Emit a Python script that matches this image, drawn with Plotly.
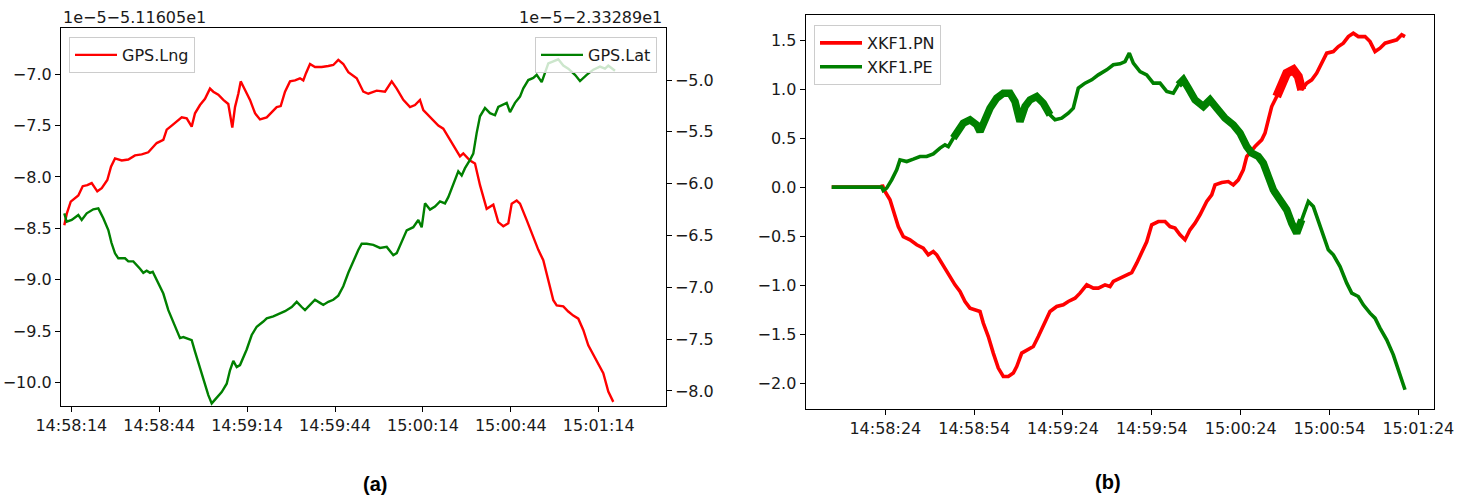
import pandas as pd
import plotly.graph_objects as go

# ---------------- data: panel (a) ----------------
BASE_A = "2023-01-01 14:58:14"   # seconds below are offsets from this time
lng_t = [-2.39, -1.57, -0.2, 2.39, 3.89, 5.46, 6.96, 8.87, 10.38, 12.29, 13.55, 14.91, 17.2, 19.45,
         21.74, 24.03, 26.28, 27.99, 29.15, 31.4, 32.56, 34.27, 35.97, 37.68, 39.39, 41.09, 42.22,
         43.92, 45.63, 47.34, 48.46, 50.17, 51.88, 53.58, 54.95, 55.87, 57.0, 57.82, 58.7, 59.86,
         60.99, 62.7, 64.4, 66.69, 68.4, 70.1, 71.47, 72.94, 74.64, 76.35, 78.05, 79.18, 80.1,
         81.47, 83.17, 85.46, 87.71, 89.42, 91.13, 92.83, 94.54, 97.41, 99.66, 101.37, 104.23,
         107.06, 109.35, 111.06, 113.31, 115.6, 117.3, 119.0, 120.14, 121.84, 123.0, 125.26,
         126.96, 128.67, 130.96, 132.66, 133.79, 136.08, 137.78, 139.49, 141.77, 144.03, 145.73,
         147.44, 149.15, 150.31, 152.01, 153.14, 155.43, 157.68, 159.39, 161.09, 162.8, 164.51,
         165.67, 167.92, 169.62, 171.33, 173.04, 174.74, 176.45, 178.16, 179.86, 181.57, 183.28,
         184.98]
lng_v = [-8.47, -8.36, -8.24, -8.18, -8.09, -8.08, -8.06, -8.14, -8.11, -8.03, -7.90, -7.82, -7.84,
         -7.83, -7.79, -7.78, -7.76, -7.71, -7.67, -7.64, -7.54, -7.50, -7.46, -7.42, -7.43, -7.51,
         -7.38, -7.30, -7.24, -7.14, -7.17, -7.20, -7.25, -7.29, -7.52, -7.32, -7.19, -7.07, -7.12,
         -7.19, -7.25, -7.38, -7.44, -7.42, -7.37, -7.32, -7.31, -7.17, -7.07, -7.06, -7.04, -7.06,
         -6.99, -6.90, -6.93, -6.93, -6.92, -6.91, -6.86, -6.90, -6.98, -7.04, -7.17, -7.19, -7.16,
         -7.17, -7.07, -7.14, -7.25, -7.32, -7.30, -7.25, -7.35, -7.40, -7.43, -7.50, -7.53, -7.61,
         -7.71, -7.80, -7.77, -7.84, -7.87, -8.08, -8.31, -8.27, -8.44, -8.48, -8.45, -8.26, -8.23,
         -8.26, -8.42, -8.58, -8.71, -8.81, -9.00, -9.20, -9.25, -9.26, -9.31, -9.35, -9.38, -9.49,
         -9.64, -9.73, -9.82, -9.91, -10.09, -10.19]

lat_t = [-2.39, -1.57, 0.14, 2.39, 3.55, 5.26, 7.51, 9.22, 10.92, 12.63, 13.7, 14.91, 16.04, 18.33,
         19.45, 21.16, 23.45, 24.57, 25.73, 26.86, 27.78, 29.69, 31.4, 33.11, 34.81, 35.97, 37.1,
         38.23, 39.39, 41.09, 42.22, 43.34, 45.05, 46.76, 47.92, 49.62, 51.33, 53.04, 54.16, 55.29,
         56.45, 57.58, 58.7, 59.86, 61.57, 63.28, 65.53, 66.69, 68.94, 71.23, 72.94, 75.22, 76.93,
         78.63, 79.76, 81.47, 83.17, 84.88, 86.01, 87.71, 89.42, 91.13, 92.83, 94.54, 96.25, 97.95,
         99.11, 100.82, 103.07, 105.36, 107.65, 109.9, 111.06, 112.76, 114.47, 116.72, 118.43,
         119.59, 120.72, 122.42, 124.13, 125.84, 127.54, 128.67, 130.38, 132.08, 133.24, 134.37,
         136.08, 137.2, 138.36, 139.49, 141.19, 142.9, 144.61, 145.73, 148.6, 149.73, 151.43,
         153.14, 154.27, 155.97, 157.68, 158.84, 160.55, 161.67, 162.8, 164.51, 166.21, 167.92,
         169.62, 171.91, 173.62, 175.9, 178.16, 180.44, 182.15, 183.28, 185.56]
lat_v = [-6.286, -6.367, -6.350, -6.302, -6.350, -6.286, -6.247, -6.238, -6.334, -6.447, -6.57,
         -6.672, -6.72, -6.72, -6.75, -6.75, -6.82, -6.86, -6.84, -6.86, -6.85, -6.96, -7.06, -7.22,
         -7.33, -7.40, -7.49, -7.48, -7.49, -7.51, -7.62, -7.73, -7.88, -8.04, -8.12, -8.07, -8.01,
         -7.93, -7.80, -7.71, -7.77, -7.75, -7.68, -7.60, -7.46, -7.38, -7.33, -7.30, -7.28, -7.25,
         -7.23, -7.19, -7.14, -7.19, -7.22, -7.17, -7.12, -7.15, -7.17, -7.14, -7.12, -7.08, -6.99,
         -6.86, -6.74, -6.64, -6.58, -6.58, -6.59, -6.62, -6.61, -6.69, -6.67, -6.56, -6.45, -6.42,
         -6.35, -6.42, -6.19, -6.25, -6.22, -6.17, -6.19, -6.13, -6.00, -5.88, -5.92, -5.85, -5.77,
         -5.71, -5.51, -5.35, -5.27, -5.32, -5.34, -5.26, -5.22, -5.31, -5.22, -5.16, -5.08, -5.00,
         -4.98, -4.95, -5.02, -4.94, -4.84, -4.82, -4.80, -4.86, -4.89, -4.95, -5.01, -4.95, -4.90,
         -4.87, -4.89, -4.86, -4.91]

# ---------------- data: panel (b) ----------------
BASE_B = "2023-01-01 14:58:24"
pn_t = [-18.1, -1.22, -1.01, -0.1, 1.59, 2.7, 4.39, 6.08, 8.34, 10.6, 12.83, 14.52, 16.21, 17.36,
        19.05, 21.28, 23.54, 25.23, 26.92, 28.6, 30.87, 31.98, 33.1, 34.79, 36.47, 38.16, 39.85,
        41.54, 43.23, 44.38, 46.07, 48.29, 49.98, 51.67, 53.36, 55.62, 57.88, 60.11, 61.8, 64.07,
        65.75, 68.02, 70.25, 71.94, 74.2, 75.89, 77.0, 79.26, 81.53, 83.21, 84.9, 86.59, 88.28,
        89.97, 92.2, 94.46, 96.15, 97.84, 99.53, 101.22, 102.91, 104.59, 106.28, 108.55, 110.23,
        111.35, 113.61, 115.84, 117.53, 119.22, 120.9, 122.05, 124.85, 127.12, 128.23, 129.35,
        130.49, 132.18, 133.87, 135.56, 137.79, 139.48, 140.63, 142.32, 144.01, 145.69, 147.38,
        149.07, 151.3, 152.99, 154.68, 156.37, 158.05, 159.74, 162.0, 163.7, 165.39, 167.07,
        168.76, 171.02, 172.71, 174.4, 175.51]
pn_v = [0.0, 0.0, 0.023, -0.045, -0.129, -0.231, -0.402, -0.504, -0.537, -0.588, -0.622, -0.69,
        -0.657, -0.69, -0.775, -0.877, -0.996, -1.064, -1.166, -1.234, -1.251, -1.268, -1.386,
        -1.523, -1.692, -1.845, -1.931, -1.931, -1.896, -1.829, -1.692, -1.659, -1.625, -1.523,
        -1.404, -1.268, -1.217, -1.20, -1.166, -1.132, -1.081, -0.996, -1.03, -1.03, -0.996, -1.013,
        -0.962, -0.928, -0.894, -0.871, -0.775, -0.657, -0.558, -0.384, -0.351, -0.351, -0.402,
        -0.418, -0.486, -0.537, -0.435, -0.367, -0.282, -0.147, -0.078, 0.023, 0.047, 0.057, 0.023,
        0.074, 0.176, 0.312, 0.414, 0.482, 0.551, 0.686, 0.822, 0.924, 1.06, 1.162, 1.196, 1.128,
        0.992, 1.06, 1.094, 1.162, 1.264, 1.366, 1.382, 1.433, 1.468, 1.535, 1.57, 1.535, 1.535,
        1.484, 1.382, 1.417, 1.468, 1.484, 1.502, 1.553, 1.535]

pe_t = [-18.1, -1.22, -0.68, 0.47, 2.16, 3.85, 4.96, 7.23, 9.46, 11.72, 13.98, 16.21, 18.47, 20.16,
        21.28, 22.97, 24.65, 26.34, 28.6, 30.87, 31.98, 33.1, 35.36, 37.62, 39.85, 42.11, 43.8,
        45.49, 47.18, 48.87, 51.13, 53.36, 55.62, 57.31, 59.57, 61.8, 63.49, 65.18, 67.44, 69.71,
        71.94, 74.77, 77.0, 79.26, 80.95, 82.4, 83.76, 86.02, 88.28, 90.51, 92.77, 95.03, 97.26,
        98.95, 100.64, 102.33, 104.59, 107.4, 109.66, 111.92, 114.72, 117.53, 119.79, 122.05,
        123.74, 125.97, 127.66, 129.35, 131.04, 133.3, 135.56, 137.25, 138.94, 140.63, 142.86,
        144.55, 146.81, 149.61, 151.3, 153.57, 155.83, 157.52, 159.74, 161.43, 163.7, 165.39,
        167.07, 169.33, 171.56, 173.25, 175.51]
pe_v = [0.0, 0.0, -0.035, -0.01, 0.074, 0.176, 0.278, 0.261, 0.285, 0.312, 0.312, 0.339, 0.398,
        0.431, 0.414, 0.50, 0.584, 0.652, 0.686, 0.635, 0.567, 0.652, 0.805, 0.907, 0.958, 0.958,
        0.873, 0.669, 0.822, 0.89, 0.924, 0.856, 0.737, 0.686, 0.703, 0.754, 0.805, 1.009, 1.06,
        1.094, 1.145, 1.196, 1.247, 1.257, 1.28, 1.366, 1.264, 1.178, 1.145, 1.06, 1.06, 0.975,
        0.958, 1.043, 1.094, 1.009, 0.89, 0.822, 0.89, 0.805, 0.703, 0.635, 0.551, 0.414, 0.347,
        0.312, 0.245, 0.108, -0.028, -0.129, -0.231, -0.367, -0.469, -0.333, -0.147, -0.198,
        -0.402, -0.639, -0.69, -0.809, -0.979, -1.081, -1.115, -1.20, -1.285, -1.336, -1.437,
        -1.557, -1.71, -1.86, -2.066]

# time spans (seconds after BASE_B) where the estimate trace jitters into a thick band
pe_band_spans = [(22.0, 56.0), (98.0, 141.0)]
pn_band_spans = [(131.5, 141.0)]

# ---------------- axis tick labels ----------------
a_left_ticks = [-10.0, -9.5, -9.0, -8.5, -8.0, -7.5, -7.0]
a_right_ticks = [-8.0, -7.5, -7.0, -6.5, -6.0, -5.5, -5.0]
b_ticks = [-2.0, -1.5, -1.0, -0.5, 0.0, 0.5, 1.0, 1.5]


def times(base, offs):
    return pd.Timestamp(base) + pd.to_timedelta(offs, unit="s")


def lab(v):
    return f"{v:.1f}".replace("-", "\u2212")


def span_subset(ts, vs, lo, hi):
    idx = [i for i, t in enumerate(ts) if lo <= t <= hi]
    return [ts[i] for i in idx], [vs[i] for i in idx]


W, H = 1471, 496
def px(x):
    return x / W
def py(y):
    return 1 - y / H

FONT = dict(family="DejaVu Sans", size=16, color="#1a1a1a")
RED, GREEN = "#ff0000", "#008000"

fig = go.Figure()
fig.add_trace(go.Scatter(x=times(BASE_A, lng_t), y=lng_v, mode="lines", name="GPS.Lng",
                         line=dict(color=RED, width=2.4), xaxis="x", yaxis="y", legend="legend"))
fig.add_trace(go.Scatter(x=times(BASE_A, lat_t), y=lat_v, mode="lines", name="GPS.Lat",
                         line=dict(color=GREEN, width=2.4), xaxis="x", yaxis="y2", legend="legend2"))
fig.add_trace(go.Scatter(x=times(BASE_B, pn_t), y=pn_v, mode="lines", name="XKF1.PN",
                         line=dict(color=RED, width=3.6), xaxis="x2", yaxis="y3", legend="legend3"))
for lo, hi in pn_band_spans:
    bt, bv = span_subset(pn_t, pn_v, lo, hi)
    fig.add_trace(go.Scatter(x=times(BASE_B, bt), y=bv, mode="lines", showlegend=False,
                             line=dict(color=RED, width=9), xaxis="x2", yaxis="y3"))
fig.add_trace(go.Scatter(x=times(BASE_B, pe_t), y=pe_v, mode="lines", name="XKF1.PE",
                         line=dict(color=GREEN, width=3.6), xaxis="x2", yaxis="y3", legend="legend3"))
for lo, hi in pe_band_spans:
    bt, bv = span_subset(pe_t, pe_v, lo, hi)
    fig.add_trace(go.Scatter(x=times(BASE_B, bt), y=bv, mode="lines", showlegend=False,
                             line=dict(color=GREEN, width=7.5), xaxis="x2", yaxis="y3"))

axis_common = dict(linecolor="black", linewidth=1.2, ticks="outside", ticklen=5,
                   tickwidth=1.2, tickcolor="black", showgrid=False, zeroline=False,
                   tickfont=FONT, automargin=False)

legend_style = dict(bgcolor="rgba(255,255,255,0.8)", bordercolor="#cccccc", borderwidth=1,
                    font=FONT, itemwidth=42)

xa0, xa1 = pd.Timestamp(BASE_A), pd.Timestamp(BASE_B)
fig.update_layout(
    width=W, height=H, margin=dict(l=0, r=0, t=0, b=0, autoexpand=False),
    paper_bgcolor="white", plot_bgcolor="white", font=FONT,
    xaxis=dict(domain=[px(61), px(665.7)], anchor="y", type="date", mirror=True, showline=True,
               range=[xa0 + pd.Timedelta(seconds=-3.52), xa0 + pd.Timedelta(seconds=202.87)],
               tick0=xa0, dtick=30000, tickformat="%H:%M:%S", **axis_common),
    yaxis=dict(domain=[py(406), py(28)], anchor="x", range=[-10.23, -6.55], mirror=True,
               showline=True, tickmode="array", tickvals=a_left_ticks,
               ticktext=[lab(v) for v in a_left_ticks], **axis_common),
    yaxis2=dict(overlaying="y", side="right", anchor="x", range=[-8.145, -4.498], showline=False,
                tickmode="array", tickvals=a_right_ticks, ticktext=[lab(v) for v in a_right_ticks],
                **axis_common),
    xaxis2=dict(domain=[px(805.7), px(1434.3)], anchor="y3", type="date", mirror=True,
                showline=True,
                range=[xa1 + pd.Timedelta(seconds=-26.88), xa1 + pd.Timedelta(seconds=185.4)],
                tick0=xa1, dtick=30000, tickformat="%H:%M:%S", **axis_common),
    yaxis3=dict(domain=[py(409), py(15)], anchor="x2", range=[-2.262, 1.755], mirror=True,
                showline=True, tickmode="array", tickvals=b_ticks,
                ticktext=[lab(v) for v in b_ticks], **axis_common),
    legend=dict(x=px(69), y=py(37), xanchor="left", yanchor="top", **legend_style),
    legend2=dict(x=px(657), y=py(37), xanchor="right", yanchor="top", **legend_style),
    legend3=dict(x=px(814), y=py(25), xanchor="left", yanchor="top", **legend_style),
    annotations=[
        dict(text="1e\u22125\u22125.11605e1", x=px(61), y=py(18), xref="paper", yref="paper",
             xanchor="left", yanchor="middle", showarrow=False, font=FONT),
        dict(text="1e\u22125\u22122.33289e1", x=px(664), y=py(18), xref="paper", yref="paper",
             xanchor="right", yanchor="middle", showarrow=False, font=FONT),
        dict(text="<b>(a)</b>", x=px(375), y=py(484), xref="paper", yref="paper",
             xanchor="center", yanchor="middle", showarrow=False,
             font=dict(family="Liberation Sans", size=20, color="black")),
        dict(text="<b>(b)</b>", x=px(1108), y=py(482), xref="paper", yref="paper",
             xanchor="center", yanchor="middle", showarrow=False,
             font=dict(family="Liberation Sans", size=20, color="black")),
    ],
    showlegend=True,
)

fig.write_html("out.html", config={"displayModeBar": False},
               post_script="document.body.style.margin='0';document.body.style.overflow='hidden';")
